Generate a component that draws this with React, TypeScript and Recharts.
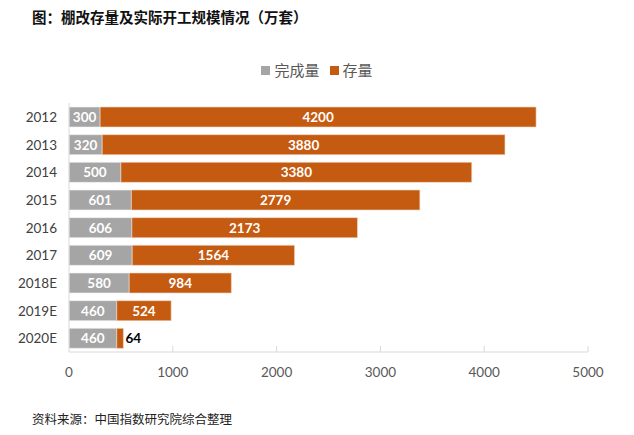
import React from 'react';
import { BarChart, Bar, XAxis, YAxis, LabelList } from 'recharts';

const years = ['2012', '2013', '2014', '2015', '2016', '2017', '2018E', '2019E', '2020E'];
const completed = [300, 320, 500, 601, 606, 609, 580, 460, 460];
const stock = [4200, 3880, 3380, 2779, 2173, 1564, 984, 524, 64];
const xTicks = [0, 1000, 2000, 3000, 4000, 5000];

const data = years.map((y, i) => ({ year: y, completed: completed[i], stock: stock[i] }));

const GRAY = '#A5A5A5';
const ORANGE = '#C55A11';
const NUM_FONT = 'Lato, "Liberation Sans", sans-serif';
const CJK = '"Noto Sans CJK SC", sans-serif';

const XTick = (props: any) => {
  const { x, y, payload } = props;
  return (
    <g>
      {payload.value !== 0 && <line x1={x} x2={x} y1={y} y2={y - 6} stroke="#d9d9d9" strokeWidth={1} />}
      <text x={x} y={y + 25} textAnchor="middle" fill="#595959" fontSize={13.5} fontFamily={NUM_FONT}>
        {payload.value}
      </text>
    </g>
  );
};

const YTick = (props: any) => {
  const { x, y, payload } = props;
  return (
    <text x={x} y={y} dy={5} textAnchor="end" fill="#404040" fontSize={13.5} fontFamily={NUM_FONT}>
      {payload.value}
    </text>
  );
};

const innerLabel = (props: any) => {
  const { x, y, width, height, value } = props;
  return (
    <text x={x + width / 2} y={y + height / 2} dy={5} textAnchor="middle" fill="#fff" fontWeight="bold" fontSize={13.5} fontFamily={NUM_FONT}>
      {value}
    </text>
  );
};

const stockLabel = (props: any) => {
  const { x, y, width, height, value } = props;
  if (value < 200) {
    return (
      <text x={x + width + 2} y={y + height / 2} dy={5} textAnchor="start" fill="#000" fontWeight="bold" fontSize={13.5} fontFamily={NUM_FONT}>
        {value}
      </text>
    );
  }
  return innerLabel(props);
};

export default function App() {
  return (
    <div style={{ position: 'absolute', left: 0, top: 0, width: 634, height: 435, background: '#fff' }}>
      <div style={{ position: 'absolute', left: 32, top: 7, fontFamily: CJK, fontWeight: 'bold', fontSize: 14.5, color: '#111', whiteSpace: 'nowrap', lineHeight: '20px' }}>
        图：棚改存量及实际开工规模情况（万套）
      </div>
      <div style={{ position: 'absolute', left: 0, width: 634, top: 60, display: 'flex', justifyContent: 'center', alignItems: 'center', fontFamily: CJK, fontSize: 15, color: '#595959', lineHeight: '20px' }}>
        <span style={{ display: 'inline-block', width: 9, height: 9, background: GRAY, marginRight: 4 }} />
        <span style={{ marginRight: 10 }}>完成量</span>
        <span style={{ display: 'inline-block', width: 9, height: 9, background: ORANGE, marginRight: 4 }} />
        <span>存量</span>
      </div>
      <BarChart
        width={634}
        height={435}
        data={data}
        layout="vertical"
        margin={{ top: 103, right: 46, bottom: 53, left: 0 }}
        barSize={20}
      >
        <XAxis
          type="number"
          domain={[0, 5000]}
          ticks={xTicks}
          axisLine={{ stroke: '#d9d9d9' }}
          tickLine={false}
          tickSize={0}
          tickMargin={0}
          tick={<XTick />}
          height={30}
          interval={0}
        />
        <YAxis
          type="category"
          dataKey="year"
          width={69}
          axisLine={{ stroke: '#d9d9d9' }}
          tickLine={false}
          tickSize={0}
          tickMargin={12}
          tick={<YTick />}
          interval={0}
        />
        <Bar dataKey="completed" stackId="a" fill={GRAY} stroke="#f2f2f2" strokeWidth={0.6} isAnimationActive={false}>
          <LabelList dataKey="completed" content={innerLabel} />
        </Bar>
        <Bar dataKey="stock" stackId="a" fill={ORANGE} stroke="#f2d6c4" strokeWidth={0.6} isAnimationActive={false}>
          <LabelList dataKey="stock" content={stockLabel} />
        </Bar>
      </BarChart>
      <div style={{ position: 'absolute', left: 32, top: 410, fontFamily: CJK, fontSize: 12.5, color: '#222', whiteSpace: 'nowrap', lineHeight: '18px' }}>
        资料来源：中国指数研究院综合整理
      </div>
    </div>
  );
}
